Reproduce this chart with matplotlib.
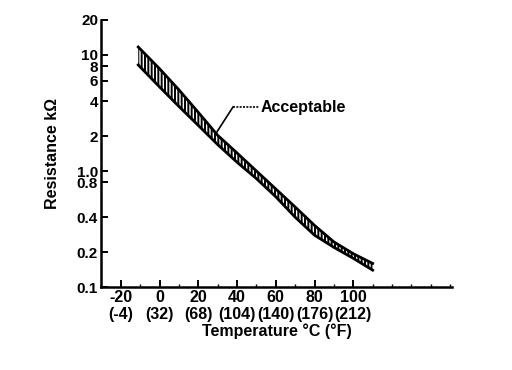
import matplotlib
matplotlib.use("Agg")
import matplotlib.pyplot as plt
from matplotlib.ticker import FixedLocator, NullFormatter, NullLocator

plt.rcParams['font.family'] = ['Liberation Sans', 'DejaVu Sans']
plt.rcParams['font.weight'] = 'bold'
plt.rcParams['hatch.linewidth'] = 1.4

# temperature (deg C) and the acceptable resistance band (kOhm)
temp_c = [-11, 0, 10, 20, 30, 40, 50, 60, 70, 80, 90, 100, 110]
r_upper = [11.7, 7.6, 5.0, 3.2, 2.03, 1.43, 1.0, 0.70, 0.49, 0.34, 0.245, 0.194, 0.16]
r_lower = [8.2, 5.3, 3.6, 2.47, 1.69, 1.19, 0.86, 0.60, 0.40, 0.28, 0.22, 0.177, 0.14]

x_ticks = [-20, 0, 20, 40, 60, 80, 100]
x_labels = ['-20\n(-4)', '0\n(32)', '20\n(68)', '40\n(104)', '60\n(140)', '80\n(176)', '100\n(212)']
y_ticks = [0.1, 0.2, 0.4, 0.8, 1.0, 2, 4, 6, 8, 10, 20]
y_labels = ['0.1', '0.2', '0.4', '0.8', '1.0', '2', '4', '6', '8', '10', '20']

fig = plt.figure(figsize=(5.12, 3.70), dpi=100)
ax = fig.add_axes([0.197, 0.224, 0.686, 0.722])

ax.fill_between(temp_c, r_lower, r_upper, facecolor='white', edgecolor='black',
                hatch='|||||', linewidth=0)
ax.plot(temp_c, r_upper, color='black', lw=2.0)
ax.plot(temp_c, r_lower, color='black', lw=2.0)

# leader line for the label
ax.plot([29.6, 37.9], [2.17, 3.56], color='black', lw=1.2)
ax.plot([37.9, 51.5], [3.56, 3.56], color='black', lw=1.2, ls=(0, (1.2, 0.8)))
ax.text(52.3, 3.56, 'Acceptable', fontsize=11.5, fontweight='bold', va='center', ha='left')

ax.set_yscale('log')
ax.set_xlim(-30.3, 151)
ax.set_ylim(0.1, 20)

ax.xaxis.set_major_locator(FixedLocator(x_ticks))
ax.set_xticklabels(x_labels)
ax.xaxis.set_minor_locator(FixedLocator([-30, -10, 10, 30, 50, 70, 90, 110, 120, 130, 140, 150]))
ax.yaxis.set_major_locator(FixedLocator(y_ticks))
ax.yaxis.set_minor_locator(NullLocator())
ax.yaxis.set_minor_formatter(NullFormatter())
ax.set_yticklabels(y_labels)

ax.spines['top'].set_visible(False)
ax.spines['right'].set_visible(False)
ax.spines['left'].set_linewidth(1.8)
ax.spines['bottom'].set_linewidth(1.8)
ax.tick_params(which='major', direction='in', length=5, width=1.4, pad=2)
ax.tick_params(axis='x', labelsize=11.5)
ax.tick_params(axis='y', labelsize=11)
ax.tick_params(which='minor', direction='in', length=2, width=1.0)
for lbl in ax.get_xticklabels():
    lbl.set_linespacing(1.15)

ax.set_xlabel('Temperature °C (°F)', fontsize=11.5, fontweight='bold', labelpad=1)
ax.set_ylabel('Resistance kΩ', fontsize=11.5, fontweight='bold', labelpad=12)

fig.savefig('out.png', dpi=100)
